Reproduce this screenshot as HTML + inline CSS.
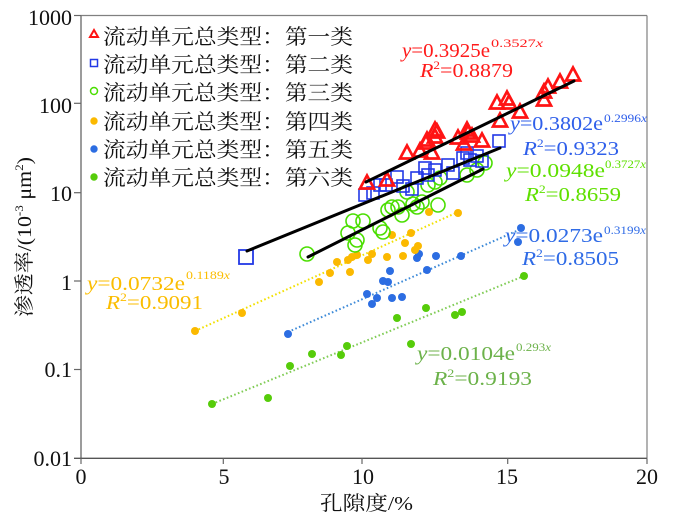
<!DOCTYPE html>
<html><head><meta charset="utf-8"><style>
html,body{margin:0;padding:0;background:#fff;}
svg{display:block;font-family:"Liberation Serif","Times New Roman","DejaVu Serif","Noto Serif CJK SC","Noto Serif CJK JP",serif;}
.ser{font-family:"Liberation Serif","Times New Roman","DejaVu Serif",serif;}
.cjk{font-family:"Liberation Serif","Times New Roman","Noto Serif CJK SC","Noto Serif CJK JP","DejaVu Serif",serif;}
.it{font-style:italic;}
</style></head><body>
<svg width="700" height="525" viewBox="0 0 700 525" xmlns="http://www.w3.org/2000/svg" style="font-family:'Liberation Serif','Times New Roman','DejaVu Serif','Noto Serif CJK SC',serif;">
<defs>
<path id="tri" d="M0,-7.5 L7,5.5 L-7,5.5 Z" fill="none" stroke="#ff1414" stroke-width="2.7" stroke-linejoin="miter"/>
<rect id="sq" x="-6" y="-6" width="12" height="12" fill="none" stroke="#2238e6" stroke-width="1.6"/>
<circle id="ci" r="7" fill="none" stroke="#4ade00" stroke-width="1.6"/>
<circle id="od" r="4" fill="#fbb900"/>
<circle id="bd" r="4" fill="#2c6de2"/>
<circle id="gd" r="4" fill="#56cc0a"/>
</defs>
<rect width="700" height="525" fill="#fff"/>

<line x1="81" y1="15.5" x2="647" y2="15.5" stroke="#808080" stroke-width="1.2"/>
<line x1="647" y1="15.5" x2="647" y2="458.3" stroke="#808080" stroke-width="1.2"/>
<line x1="81" y1="15.5" x2="81" y2="458.3" stroke="#666" stroke-width="1.3"/>
<line x1="74" y1="458.3" x2="647" y2="458.3" stroke="#555" stroke-width="1.3"/>
<g stroke="#666" stroke-width="1.2">
<line x1="74" y1="15.5" x2="81" y2="15.5"/>
<line x1="74" y1="103.3" x2="81" y2="103.3"/>
<line x1="74" y1="192.7" x2="81" y2="192.7"/>
<line x1="74" y1="281" x2="81" y2="281"/>
<line x1="74" y1="369.5" x2="81" y2="369.5"/>
<line x1="81" y1="458.3" x2="81" y2="464"/>
<line x1="223.3" y1="458.3" x2="223.3" y2="464"/>
<line x1="362" y1="458.3" x2="362" y2="464"/>
<line x1="507.7" y1="458.3" x2="507.7" y2="464"/>
<line x1="647" y1="458.3" x2="647" y2="464"/>
</g>
<g class="ser" style="font-family:'Liberation Serif','Times New Roman','DejaVu Serif',serif" font-size="22" fill="#111" text-anchor="end">
<text x="72" y="25">1000</text>
<text x="72" y="113">100</text>
<text x="72" y="201">10</text>
<text x="72" y="290">1</text>
<text x="72" y="377">0.1</text>
<text x="72" y="466">0.01</text>
</g>
<g class="ser" style="font-family:'Liberation Serif','Times New Roman','DejaVu Serif',serif" font-size="22" fill="#111" text-anchor="middle">
<text x="81" y="484">0</text>
<text x="224" y="484">5</text>
<text x="363" y="484">10</text>
<text x="507" y="484">15</text>
<text x="647" y="484">20</text>
</g>

<text class="cjk" x="320" y="510" font-size="20" fill="#111" textLength="93" lengthAdjust="spacingAndGlyphs">孔隙度/%</text>
<text class="cjk" transform="translate(31,317) rotate(-90)" x="0" y="0" font-size="20" fill="#111" textLength="160" lengthAdjust="spacingAndGlyphs">渗透率/(10<tspan font-size="12" dy="-8">-3</tspan><tspan dy="8"> μm</tspan><tspan font-size="12" dy="-8">2</tspan><tspan dy="8">)</tspan></text>

<g class="cjk" font-size="21" fill="#111">
<text x="103" y="44" textLength="250" lengthAdjust="spacingAndGlyphs">流动单元总类型：第一类</text>
<text x="103" y="72" textLength="250" lengthAdjust="spacingAndGlyphs">流动单元总类型：第二类</text>
<text x="103" y="100" textLength="250" lengthAdjust="spacingAndGlyphs">流动单元总类型：第三类</text>
<text x="103" y="129" textLength="250" lengthAdjust="spacingAndGlyphs">流动单元总类型：第四类</text>
<text x="103" y="157" textLength="250" lengthAdjust="spacingAndGlyphs">流动单元总类型：第五类</text>
<text x="103" y="185" textLength="250" lengthAdjust="spacingAndGlyphs">流动单元总类型：第六类</text>
</g>
<path d="M94,30 L98,37 L90,37 Z" fill="none" stroke="#ff1414" stroke-width="2"/>
<rect x="90.5" y="59.5" width="7" height="7" fill="none" stroke="#2238e6" stroke-width="1.5"/>
<circle cx="94" cy="91" r="3.5" fill="none" stroke="#4ade00" stroke-width="1.5"/>
<circle cx="94" cy="121" r="3.7" fill="#fbb900"/>
<circle cx="94" cy="149" r="3.7" fill="#2c6de2"/>
<circle cx="94" cy="177" r="3.7" fill="#56cc0a"/>

<g stroke-width="2" stroke-dasharray="1.6 2.4" fill="none">
<line x1="195" y1="331" x2="458" y2="212" stroke="#f2e000"/>
<line x1="288" y1="332" x2="521" y2="229" stroke="#3d8ad8"/>
<line x1="212" y1="404" x2="524" y2="276" stroke="#80cc55"/>
</g>

<g>
<use href="#gd" x="212" y="404"/><use href="#gd" x="268" y="398"/><use href="#gd" x="290" y="366"/>
<use href="#gd" x="312" y="354"/><use href="#gd" x="341" y="355"/><use href="#gd" x="347" y="346"/>
<use href="#gd" x="397" y="318"/><use href="#gd" x="411" y="344"/><use href="#gd" x="426" y="308"/>
<use href="#gd" x="455" y="315"/><use href="#gd" x="462" y="312"/><use href="#gd" x="524" y="276"/>
</g>
<g>
<use href="#bd" x="288" y="334"/><use href="#bd" x="367" y="294"/><use href="#bd" x="372" y="304"/>
<use href="#bd" x="377" y="298"/><use href="#bd" x="383" y="281"/><use href="#bd" x="388" y="282"/>
<use href="#bd" x="390" y="271"/><use href="#bd" x="392" y="298"/><use href="#bd" x="402" y="297"/>
<use href="#bd" x="417" y="258"/><use href="#bd" x="419" y="254"/><use href="#bd" x="427" y="270"/>
<use href="#bd" x="436" y="256"/><use href="#bd" x="461" y="256"/><use href="#bd" x="518" y="242"/>
<use href="#bd" x="521" y="228"/>
</g>
<g>
<use href="#od" x="195" y="331"/><use href="#od" x="242" y="313"/><use href="#od" x="319" y="282"/>
<use href="#od" x="330" y="273"/><use href="#od" x="337" y="262"/><use href="#od" x="348" y="260"/>
<use href="#od" x="350" y="272"/><use href="#od" x="352" y="257"/><use href="#od" x="357" y="255"/>
<use href="#od" x="368" y="260"/><use href="#od" x="372" y="254"/><use href="#od" x="387" y="257"/>
<use href="#od" x="392" y="235"/><use href="#od" x="403" y="256"/><use href="#od" x="405" y="243"/>
<use href="#od" x="411" y="233"/><use href="#od" x="415" y="250"/><use href="#od" x="418" y="246"/>
<use href="#od" x="429" y="212"/><use href="#od" x="458" y="213"/>
</g>
<g>
<use href="#ci" x="307" y="254"/><use href="#ci" x="348" y="233"/><use href="#ci" x="353" y="221"/>
<use href="#ci" x="363" y="221"/><use href="#ci" x="355" y="245"/><use href="#ci" x="357" y="240"/>
<use href="#ci" x="383" y="232"/><use href="#ci" x="380" y="228"/><use href="#ci" x="388" y="210"/>
<use href="#ci" x="392" y="207"/><use href="#ci" x="398" y="207"/><use href="#ci" x="402" y="215"/>
<use href="#ci" x="407" y="192"/><use href="#ci" x="413" y="204"/><use href="#ci" x="417" y="207"/>
<use href="#ci" x="422" y="202"/><use href="#ci" x="428" y="185"/><use href="#ci" x="435" y="182"/>
<use href="#ci" x="438" y="205"/><use href="#ci" x="440" y="178"/><use href="#ci" x="467" y="175"/>
<use href="#ci" x="477" y="170"/><use href="#ci" x="485" y="163"/>
</g>
<g>
<rect x="239" y="250" width="14" height="14" fill="none" stroke="#2238e6" stroke-width="1.8"/>
<use href="#sq" x="365" y="195"/><use href="#sq" x="373" y="193"/><use href="#sq" x="380" y="185"/>
<use href="#sq" x="386" y="185"/><use href="#sq" x="397" y="177"/><use href="#sq" x="403" y="186"/>
<use href="#sq" x="412" y="189"/><use href="#sq" x="417" y="178"/><use href="#sq" x="425" y="168"/>
<use href="#sq" x="428" y="175"/><use href="#sq" x="435" y="170"/><use href="#sq" x="448" y="165"/>
<use href="#sq" x="453" y="173"/><use href="#sq" x="463" y="158"/><use href="#sq" x="467" y="153"/>
<use href="#sq" x="470" y="160"/><use href="#sq" x="477" y="156"/><use href="#sq" x="482" y="161"/>
<use href="#sq" x="499" y="141"/>
</g>
<g>
<use href="#tri" x="367" y="183"/><use href="#tri" x="387" y="180"/><use href="#tri" x="407" y="153"/>
<use href="#tri" x="420" y="151"/><use href="#tri" x="426" y="143"/><use href="#tri" x="432" y="153"/>
<use href="#tri" x="435" y="130"/><use href="#tri" x="437" y="132"/><use href="#tri" x="427" y="140"/>
<use href="#tri" x="435" y="137"/><use href="#tri" x="458" y="138"/><use href="#tri" x="467" y="130"/>
<use href="#tri" x="464" y="144"/><use href="#tri" x="472" y="136"/><use href="#tri" x="482" y="141"/>
<use href="#tri" x="468" y="133"/><use href="#tri" x="500" y="121"/><use href="#tri" x="497" y="103"/>
<use href="#tri" x="507" y="99"/><use href="#tri" x="509" y="103"/><use href="#tri" x="520" y="112"/>
<use href="#tri" x="544" y="92"/><use href="#tri" x="548" y="87"/><use href="#tri" x="544" y="100"/>
<use href="#tri" x="560" y="82"/><use href="#tri" x="573" y="75"/>
</g>

<g stroke="#000" stroke-width="3" stroke-linecap="round">
<line x1="366" y1="182" x2="574" y2="81"/>
<line x1="247" y1="251" x2="500" y2="148"/>
<line x1="308" y1="257" x2="483" y2="169"/>
</g>

<g class="ser" style="font-family:'Liberation Serif','Times New Roman','DejaVu Serif',serif">
<g fill="#ff1a1a">
<text x="402" y="57" font-size="20" textLength="88" lengthAdjust="spacingAndGlyphs"><tspan class="it">y</tspan>=0.3925e</text>
<text x="491" y="47" font-size="12" textLength="52" lengthAdjust="spacingAndGlyphs">0.3527<tspan class="it">x</tspan></text>
<text x="420" y="77" font-size="20" textLength="93" lengthAdjust="spacingAndGlyphs"><tspan class="it">R</tspan><tspan font-size="12" dy="-8">2</tspan><tspan dy="8">=0.8879</tspan></text>
</g>
<g fill="#2f5fea">
<text x="510" y="130" font-size="20" textLength="93" lengthAdjust="spacingAndGlyphs"><tspan class="it">y</tspan>=0.3802e</text>
<text x="604" y="122" font-size="12" textLength="43" lengthAdjust="spacingAndGlyphs">0.2996<tspan class="it">x</tspan></text>
<text x="523" y="155" font-size="20" textLength="96" lengthAdjust="spacingAndGlyphs"><tspan class="it">R</tspan><tspan font-size="12" dy="-8">2</tspan><tspan dy="8">=0.9323</tspan></text>
</g>
<g fill="#5fe000">
<text x="506" y="177" font-size="20" textLength="99" lengthAdjust="spacingAndGlyphs"><tspan class="it">y</tspan>=0.0948e</text>
<text x="605" y="168" font-size="12" textLength="41" lengthAdjust="spacingAndGlyphs">0.3727<tspan class="it">x</tspan></text>
<text x="525" y="201" font-size="20" textLength="96" lengthAdjust="spacingAndGlyphs"><tspan class="it">R</tspan><tspan font-size="12" dy="-8">2</tspan><tspan dy="8">=0.8659</tspan></text>
</g>
<g fill="#fbbd00">
<text x="87" y="290" font-size="20" textLength="98" lengthAdjust="spacingAndGlyphs"><tspan class="it">y</tspan>=0.0732e</text>
<text x="186" y="279" font-size="12" textLength="44" lengthAdjust="spacingAndGlyphs">0.1189<tspan class="it">x</tspan></text>
<text x="106" y="309" font-size="20" textLength="97" lengthAdjust="spacingAndGlyphs"><tspan class="it">R</tspan><tspan font-size="12" dy="-8">2</tspan><tspan dy="8">=0.9091</tspan></text>
</g>
<g fill="#2f6be6">
<text x="505" y="242" font-size="20" textLength="98" lengthAdjust="spacingAndGlyphs"><tspan class="it">y</tspan>=0.0273e</text>
<text x="604" y="234" font-size="12" textLength="42" lengthAdjust="spacingAndGlyphs">0.3199<tspan class="it">x</tspan></text>
<text x="522" y="265" font-size="20" textLength="97" lengthAdjust="spacingAndGlyphs"><tspan class="it">R</tspan><tspan font-size="12" dy="-8">2</tspan><tspan dy="8">=0.8505</tspan></text>
</g>
<g fill="#6cb24a">
<text x="417" y="360" font-size="20" textLength="98" lengthAdjust="spacingAndGlyphs"><tspan class="it">y</tspan>=0.0104e</text>
<text x="516" y="351" font-size="12" textLength="35" lengthAdjust="spacingAndGlyphs">0.293<tspan class="it">x</tspan></text>
<text x="433" y="385" font-size="20" textLength="99" lengthAdjust="spacingAndGlyphs"><tspan class="it">R</tspan><tspan font-size="12" dy="-8">2</tspan><tspan dy="8">=0.9193</tspan></text>
</g>
</g>
</svg>
</body></html>
